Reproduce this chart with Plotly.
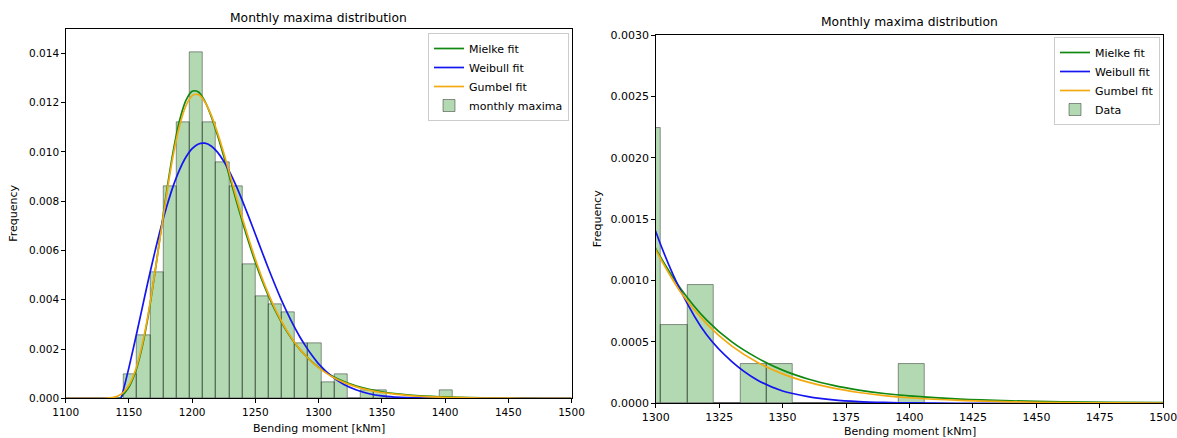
import plotly.graph_objects as go

# ---------------- data ----------------
bin_edges = [1146.1, 1156.5, 1166.9, 1177.3, 1187.7, 1198.1, 1208.5, 1218.9, 1229.3,
             1239.7, 1250.1, 1260.5, 1270.9, 1281.3, 1291.7, 1302.1, 1312.5, 1322.9,
             1333.3, 1343.7, 1354.1, 1364.5, 1374.9, 1385.3, 1395.7, 1406.1]
bar_density = [0.00096, 0.00257, 0.00512, 0.00862, 0.01120, 0.01405, 0.01120, 0.00958,
               0.00862, 0.00543, 0.00415, 0.00383, 0.00351, 0.00224, 0.00224, 0.00064,
               0.00096, 0.0, 0.00032, 0.00032, 0.0, 0.0, 0.0, 0.0, 0.00032]

fit_x = [1100, 1120, 1130, 1135, 1140, 1143.5, 1145, 1150, 1155, 1160, 1165, 1170, 1175,
         1180, 1185, 1190, 1195, 1200, 1205, 1210, 1215, 1220, 1225, 1230, 1235, 1240,
         1245, 1250, 1255, 1260, 1265, 1270, 1275, 1280, 1285, 1290, 1295, 1300, 1310,
         1320, 1330, 1340, 1350, 1360, 1370, 1380, 1390, 1400, 1420, 1440, 1460, 1480, 1500]
mielke_y = [0, 0, 0, 0, 0, 0.00003, 0.00012, 0.00046, 0.00105, 0.00198, 0.00328, 0.00490,
            0.00668, 0.00845, 0.01002, 0.01126, 0.01208, 0.01246, 0.01243, 0.01206, 0.01145,
            0.01068, 0.00982, 0.00891, 0.00800, 0.00712, 0.00629, 0.00552, 0.00482, 0.00420,
            0.00364, 0.00315, 0.00271, 0.00233, 0.00200, 0.00172, 0.00147, 0.00126, 0.00093,
            0.00068, 0.00050, 0.00037, 0.00027, 0.000198, 0.000146, 0.000108, 0.000080,
            0.000060, 0.000034, 0.000020, 0.000012, 0.000007, 0.000005]
weibull_y = [0, 0, 0, 0, 0, 0, 0.00023, 0.00125, 0.00238, 0.00355, 0.00472, 0.00583,
             0.00687, 0.00780, 0.00861, 0.00927, 0.00978, 0.01013, 0.01032, 0.01035, 0.01024,
             0.00999, 0.00962, 0.00915, 0.00860, 0.00798, 0.00733, 0.00666, 0.00598, 0.00531,
             0.00467, 0.00406, 0.00350, 0.00298, 0.00251, 0.00210, 0.00173, 0.00140, 0.00091,
             0.00056, 0.00034, 0.00019, 0.00010, 0.000055, 0.000028, 0.000014, 0.000007,
             0.000003, 0, 0, 0, 0, 0]
gumbel_y = [0, 0, 0.0000036, 0.000018, 0.000070, 0.000157, 0.000214, 0.000532, 0.001124,
            0.00206, 0.00335, 0.00492, 0.00664, 0.00834, 0.00986, 0.01105, 0.01186, 0.01228,
            0.01232, 0.01203, 0.01150, 0.01078, 0.00995, 0.00905, 0.00814, 0.00726, 0.00642,
            0.00564, 0.00492, 0.00428, 0.00370, 0.00319, 0.00274, 0.00235, 0.00201, 0.00172,
            0.00146, 0.00125, 0.000900, 0.000649, 0.000466, 0.000335, 0.000240, 0.000172,
            0.000123, 0.0000882, 0.0000631, 0.0000452, 0.0000231, 0.0000118, 0.0000060,
            0.0000031, 0.0000016]

left_title = "Monthly maxima distribution"
right_title = "Monthly maxima distribution"
x_label = "Bending moment [kNm]"
y_label = "Frequency"
left_ticks_y = [0.000, 0.002, 0.004, 0.006, 0.008, 0.010, 0.012, 0.014]
right_ticks_y = [0.0000, 0.0005, 0.0010, 0.0015, 0.0020, 0.0025, 0.0030]
left_ticks_x = [1100, 1150, 1200, 1250, 1300, 1350, 1400, 1450, 1500]
right_ticks_x = [1300, 1325, 1350, 1375, 1400, 1425, 1450, 1475, 1500]

# ---------------- figure ----------------
W, H = 1177, 438
ML, MR, MT, MB = 40, 10, 10, 30
PW, PH = W - ML - MR, H - MT - MB
FONT = "DejaVu Sans"
bar_centers = [(a + b) / 2 for a, b in zip(bin_edges[:-1], bin_edges[1:])]
bar_widths = [b - a for a, b in zip(bin_edges[:-1], bin_edges[1:])]

fig = go.Figure()

fit_specs = [("Mielke fit", mielke_y, "#118811"),
             ("Weibull fit", weibull_y, "#1515f0"),
             ("Gumbel fit", gumbel_y, "#f2aa10")]

for side, (xa, ya, leg, barname) in enumerate([("x", "y", "legend", "monthly maxima"),
                                               ("x2", "y2", "legend2", "Data")]):
    fig.add_trace(go.Bar(x=bar_centers, y=bar_density, width=bar_widths, name=barname,
                         marker=dict(color="rgba(0,128,0,0.3)",
                                     line=dict(color="rgba(0,0,0,0.45)", width=0.9)),
                         xaxis=xa, yaxis=ya, legend=leg, legendrank=1000))
    for i, (nm, yy, col) in enumerate(fit_specs):
        fig.add_trace(go.Scatter(x=fit_x, y=yy, mode="lines", name=nm,
                                 line=dict(color=col, width=1.7, shape="spline", smoothing=0.8),
                                 xaxis=xa, yaxis=ya, legend=leg, legendrank=10 + i))

def px_x(p):
    return (p - ML) / PW

def px_y(p):
    return (H - MB - p) / PH

axis_common = dict(showline=True, mirror=True, linecolor="black", linewidth=1,
                   ticks="outside", ticklen=3.5, tickwidth=0.8, tickcolor="black",
                   showgrid=False, zeroline=False, automargin=False,
                   ticklabeloverflow="allow")
left_tf = dict(family=FONT, size=10.5, color="black")
right_tf = dict(family=FONT, size=11, color="black")

L = (65.7, 571.5, 29.3, 398.4)
R = (655.7, 1163.3, 35.0, 403.3)

fig.update_layout(
    width=W, height=H, margin=dict(l=ML, r=MR, t=MT, b=MB, autoexpand=False),
    paper_bgcolor="white", plot_bgcolor="white", barmode="overlay", bargap=0,
    showlegend=True,
    font=dict(family=FONT, size=10, color="black"),
    xaxis=dict(domain=[px_x(L[0]), px_x(L[1])], range=[1100, 1500], anchor="y",
               tickvals=left_ticks_x, ticktext=[str(v) for v in left_ticks_x],
               tickfont=left_tf, **axis_common),
    yaxis=dict(domain=[px_y(L[3]), px_y(L[2])], range=[0, 0.01497], anchor="x",
               tickvals=left_ticks_y, ticktext=[f"{v:.3f}" for v in left_ticks_y],
               tickfont=left_tf, **axis_common),
    xaxis2=dict(domain=[px_x(R[0]), px_x(R[1])], range=[1300, 1500], anchor="y2",
                tickvals=right_ticks_x, ticktext=[str(v) for v in right_ticks_x],
                tickfont=right_tf, **axis_common),
    yaxis2=dict(domain=[px_y(R[3]), px_y(R[2])], range=[0, 0.003], anchor="x2",
                tickvals=right_ticks_y, ticktext=[f"{v:.4f}" for v in right_ticks_y],
                tickfont=right_tf, **axis_common),
    legend=dict(x=px_x(569), y=px_y(33), xanchor="right", yanchor="top",
                bgcolor="rgba(255,255,255,0.9)", bordercolor="#cccccc", borderwidth=1,
                font=dict(family=FONT, size=11, color="black"), tracegroupgap=0),
    legend2=dict(x=px_x(1160), y=px_y(37), xanchor="right", yanchor="top",
                 bgcolor="rgba(255,255,255,0.9)", bordercolor="#cccccc", borderwidth=1,
                 font=dict(family=FONT, size=11, color="black"), tracegroupgap=0),
)

ann = []
ann.append(dict(text=left_title, x=px_x((L[0] + L[1]) / 2), y=px_y(17.5), xref="paper", yref="paper",
                xanchor="center", yanchor="middle", showarrow=False, font=dict(family=FONT, size=12.3)))
ann.append(dict(text=right_title, x=px_x((R[0] + R[1]) / 2), y=px_y(21.5), xref="paper", yref="paper",
                xanchor="center", yanchor="middle", showarrow=False, font=dict(family=FONT, size=12.3)))
ann.append(dict(text=x_label, x=px_x((L[0] + L[1]) / 2), y=px_y(428), xref="paper", yref="paper",
                xanchor="center", yanchor="middle", showarrow=False, font=dict(family=FONT, size=11)))
ann.append(dict(text=x_label, x=px_x((R[0] + R[1]) / 2), y=px_y(431), xref="paper", yref="paper",
                xanchor="center", yanchor="middle", showarrow=False, font=dict(family=FONT, size=11)))
ann.append(dict(text=y_label, x=px_x(14), y=px_y((L[2] + L[3]) / 2), xref="paper", yref="paper",
                xanchor="center", yanchor="middle", showarrow=False, textangle=-90,
                font=dict(family=FONT, size=11)))
ann.append(dict(text=y_label, x=px_x(597), y=px_y((R[2] + R[3]) / 2), xref="paper", yref="paper",
                xanchor="center", yanchor="middle", showarrow=False, textangle=-90,
                font=dict(family=FONT, size=11)))
fig.update_layout(annotations=ann)

fig.write_html("out.html", config={"displayModeBar": False},
               post_script="document.body.style.margin='0';document.body.style.overflow='hidden';")
